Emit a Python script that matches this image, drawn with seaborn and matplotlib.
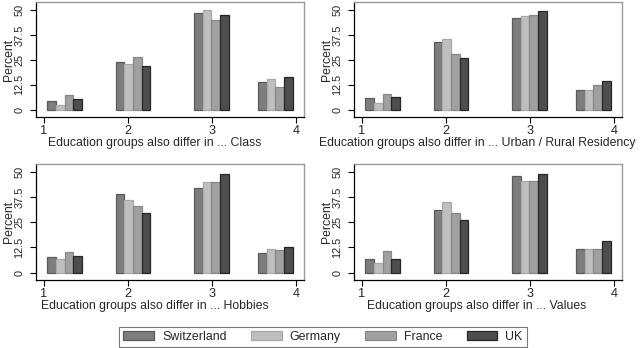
import numpy as np
import pandas as pd
import matplotlib
matplotlib.use("Agg")
import matplotlib.pyplot as plt
import seaborn as sns
from matplotlib.patches import Patch

countries = ["Switzerland", "Germany", "France", "UK"]
group_pos = [1.25, 2.06, 2.99, 3.75]
xticks = [1, 2, 3, 4]
yticks = [0, 12.5, 25, 37.5, 50]
ytick_labels = ["0", "12.5", "25", "37.5", "50"]

titles = ["Class", "Urban / Rural Residency", "Hobbies", "Values"]

# values[country] per group 1..4
class_vals = {
    "Switzerland": [4.3, 23.7, 48.7, 14.0],
    "Germany": [2.3, 23.0, 49.8, 15.2],
    "France": [7.5, 26.5, 45.0, 11.5],
    "UK": [5.2, 21.7, 47.5, 16.3],
}
urban_vals = {
    "Switzerland": [5.8, 33.7, 46.0, 10.0],
    "Germany": [3.5, 35.5, 46.8, 10.0],
    "France": [8.0, 27.8, 47.5, 12.2],
    "UK": [6.2, 25.8, 49.5, 14.2],
}
hobby_vals = {
    "Switzerland": [7.8, 39.1, 42.2, 9.9],
    "Germany": [6.5, 35.9, 45.0, 11.9],
    "France": [10.1, 33.1, 45.0, 11.1],
    "UK": [8.1, 29.6, 49.2, 12.6],
}
value_vals = {
    "Switzerland": [6.5, 31.3, 48.2, 11.8],
    "Germany": [5.0, 34.9, 45.7, 11.8],
    "France": [10.6, 29.8, 45.7, 11.8],
    "UK": [6.8, 26.2, 49.2, 15.6],
}
panels = [class_vals, urban_vals, hobby_vals, value_vals]

fills = {"Switzerland": "#7d7d7d", "Germany": "#bfbfbf", "France": "#a0a0a0", "UK": "#4e4e4e"}
edges = {"Switzerland": "#5a5a5a", "Germany": "#a9a9a9", "France": "#888888", "UK": "#262626"}

sns.set_theme(style="white")
plt.rcParams["font.family"] = ["Liberation Sans", "DejaVu Sans"]
FS_LAB = 8.8
FS_XTICK = 9.2
FS_YTICK = 7.9
FS_LEG = 8.9

W, H = 641, 348
fig = plt.figure(figsize=(W / 100, H / 100), dpi=100)

# pixel boxes (left, right, top, bottom) and cell centers for x labels
boxes = [(36, 304, 2, 117), (354, 622, 2, 117), (36, 304, 164, 280), (354, 622, 164, 280)]
label_centers = [155, 477, 155, 477]

for i, (vals, title) in enumerate(zip(panels, titles)):
    l, r, t, b = boxes[i]
    ax = fig.add_axes([l / W, 1 - b / H, (r - l) / W, (b - t) / H])
    rows = []
    for c in countries:
        for p, v in zip(group_pos, vals[c]):
            rows.append({"pos": p, "country": c, "pct": v})
    df = pd.DataFrame(rows)
    min_gap = np.diff(sorted(group_pos)).min()
    sns.barplot(data=df, x="pos", y="pct", hue="country", hue_order=countries,
                native_scale=True, palette=fills, width=0.41 / min_gap,
                ax=ax, legend=False, errorbar=None, saturation=1, linewidth=0.9)
    for cont, c in zip(ax.containers, countries):
        for patch in cont:
            patch.set_edgecolor(edges[c])
            patch.set_linewidth(0.9)
    ax.set_xlim(0.91, 4.09)
    ax.set_ylim(-3.7, 54)
    ax.set_xticks(xticks)
    ax.set_xticklabels([str(x) for x in xticks], fontsize=FS_XTICK)
    ax.set_yticks(yticks)
    ax.set_yticklabels(ytick_labels, fontsize=FS_YTICK, rotation=90, va="center")
    ax.tick_params(axis="both", direction="out", length=4, width=0.8, color="black",
                   bottom=True, left=True)
    ax.tick_params(axis="x", pad=2)
    ax.tick_params(axis="y", pad=4.5)
    ax.set_xlabel(f"Education groups also differ in ... {title}", fontsize=FS_LAB)
    ax.set_ylabel("Percent", fontsize=FS_LAB)
    ax.xaxis.set_label_coords((label_centers[i] - l) / (r - l), -0.17)
    ax.yaxis.set_label_coords(-20.5 / (r - l), 0.5)
    for s in ["top", "right"]:
        ax.spines[s].set_color("#9a9a9a")
        ax.spines[s].set_linewidth(1.0)
    for s in ["left", "bottom"]:
        ax.spines[s].set_color("black")
        ax.spines[s].set_linewidth(0.9)
    ax.set_facecolor("white")

handles = [Patch(facecolor=fills[c], edgecolor=edges[c], linewidth=0.9) for c in countries]
leg = fig.legend(handles, countries, loc="center", bbox_to_anchor=(323 / W, 1 - 337 / H),
                 ncol=4, fontsize=FS_LEG, frameon=True, fancybox=False,
                 handlelength=2.5, handleheight=0.7, columnspacing=1.95,
                 handletextpad=0.65, borderpad=0.35, borderaxespad=0)
leg.get_frame().set_edgecolor("#555555")
leg.get_frame().set_linewidth(0.8)

fig.savefig("out.png", dpi=100, facecolor="white")
